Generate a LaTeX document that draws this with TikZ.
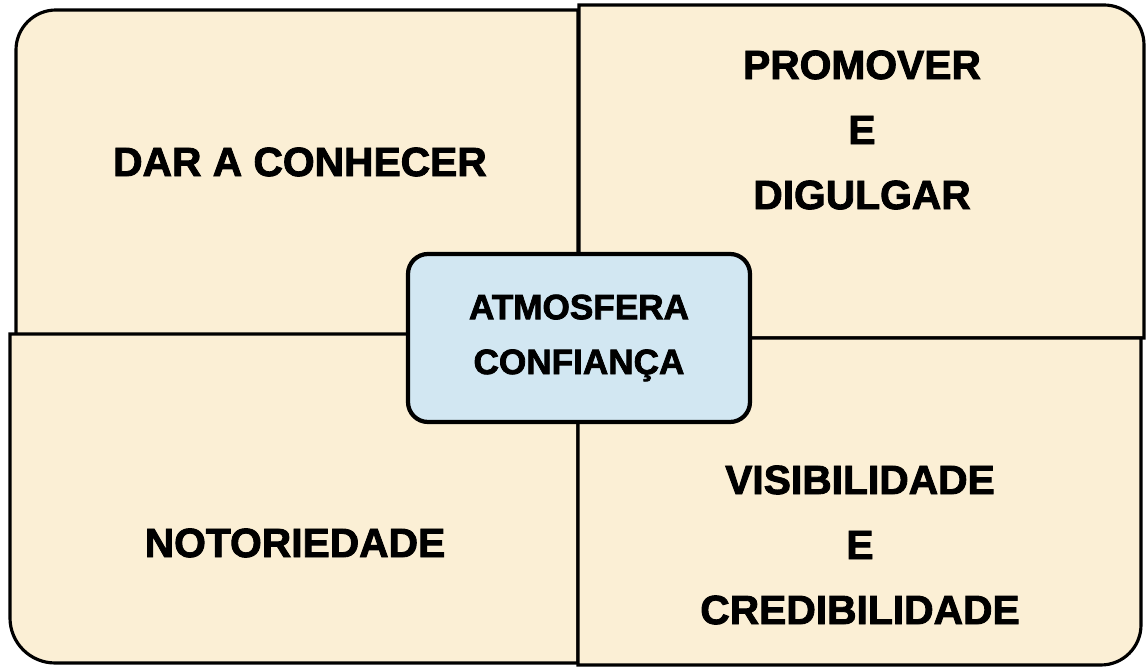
\documentclass[tikz,border=0pt]{standalone}
\usepackage{fontspec}
\setmainfont{Liberation Sans}
\newfontfamily\heavyfont{Liberation Sans}[BoldFeatures={FakeBold=2.2}]
\usepackage{tikz}
\definecolor{beige}{RGB}{251,239,213}
\definecolor{paleblue}{RGB}{210,231,242}

\begin{document}
\begin{tikzpicture}
\tikzstyle{every node}=[font=\heavyfont\bfseries\fontsize{11.6}{18.5}\selectfont, align=center]
\tikzstyle{quad}=[line width=.9pt, fill=beige]
\useasboundingbox (0,0) rectangle (11.48,6.67);
%quadrant corners
\path (0.16,3.32) coordinate (tl0);
\path (5.78,6.57) coordinate (tl1);
\path (5.79,3.29) coordinate (tr0);
\path (11.44,6.62) coordinate (tr1);
\path (0.10,3.33) coordinate (bl0);
\path (5.78,0.04) coordinate (bl1);
\path (5.78,3.29) coordinate (br0);
\path (11.41,0.02) coordinate (br1);
%quadrants
\draw [quad] (tl0) -- (0.16,6.17) arc[start angle=180, end angle=90, radius=.4] -- (tl1) -- (5.78,3.32) -- cycle;
\draw [quad] (tr0) -- (5.79,6.62) -- (11.04,6.62) arc[start angle=90, end angle=0, radius=.4] -- (11.44,3.29) -- cycle;
\draw [quad] (bl0) -- (5.78,3.33) -- (bl1) -- (0.55,0.04) arc[start angle=270, end angle=180, radius=.45] -- cycle;
\draw [quad] (br0) -- (11.41,3.29) -- (11.41,0.42) arc[start angle=0, end angle=-90, radius=.4] -- (5.78,0.02) -- cycle;

%center box
\node [draw, line width=1.2pt, fill=paleblue, rounded corners=.2cm, minimum width=3.42cm, minimum height=1.68cm,
  font=\heavyfont\bfseries\fontsize{10}{15.6}\selectfont] (atmos) at (5.79,3.29) {ATMOSFERA\\CONFIANÇA};

%labels
\node (dar) at (3.00,5.05) {DAR A CONHECER};
\node (promover) at (8.62,5.37) {PROMOVER\\E\\DIGULGAR};
\node (notor) at (2.95,1.24) {NOTORIEDADE};
\node (visib) at (8.60,1.22) {VISIBILIDADE\\E\\CREDIBILIDADE};
\end{tikzpicture}
\end{document}
